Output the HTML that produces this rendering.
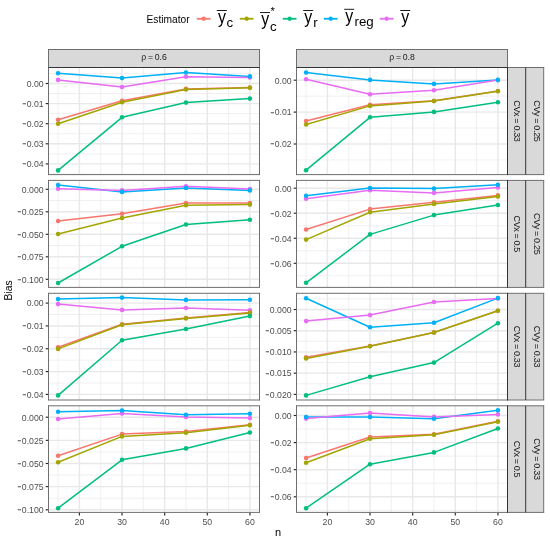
<!DOCTYPE html>
<html><head><meta charset="utf-8"><title>Bias plot</title>
<style>html,body{margin:0;padding:0;background:#fff;}body{width:550px;height:540px;position:relative;overflow:hidden;font-family:"Liberation Sans", sans-serif;}</style>
</head><body>
<svg width="550" height="540" viewBox="0 0 550 540" style="position:absolute;left:0;top:0;font-family:'Liberation Sans', sans-serif">
<rect x="0" y="0" width="550" height="540" fill="#FFFFFF"/>
<clipPath id="cp00"><rect x="48.5" y="67.5" width="211" height="107.1"/></clipPath>
<g clip-path="url(#cp00)">
<line x1="48.5" x2="259.5" y1="73.45" y2="73.45" stroke="#E8E8E8" stroke-width="0.65"/>
<line x1="48.5" x2="259.5" y1="93.55" y2="93.55" stroke="#E8E8E8" stroke-width="0.65"/>
<line x1="48.5" x2="259.5" y1="113.65" y2="113.65" stroke="#E8E8E8" stroke-width="0.65"/>
<line x1="48.5" x2="259.5" y1="133.75" y2="133.75" stroke="#E8E8E8" stroke-width="0.65"/>
<line x1="48.5" x2="259.5" y1="153.85" y2="153.85" stroke="#E8E8E8" stroke-width="0.65"/>
<line x1="48.5" x2="259.5" y1="173.95" y2="173.95" stroke="#E8E8E8" stroke-width="0.65"/>
<line x1="58.09" x2="58.09" y1="67.5" y2="174.6" stroke="#E8E8E8" stroke-width="0.65"/>
<line x1="100.72" x2="100.72" y1="67.5" y2="174.6" stroke="#E8E8E8" stroke-width="0.65"/>
<line x1="143.34" x2="143.34" y1="67.5" y2="174.6" stroke="#E8E8E8" stroke-width="0.65"/>
<line x1="185.97" x2="185.97" y1="67.5" y2="174.6" stroke="#E8E8E8" stroke-width="0.65"/>
<line x1="228.6" x2="228.6" y1="67.5" y2="174.6" stroke="#E8E8E8" stroke-width="0.65"/>
<line x1="48.5" x2="259.5" y1="83.5" y2="83.5" stroke="#E8E8E8" stroke-width="1.4"/>
<line x1="48.5" x2="259.5" y1="103.6" y2="103.6" stroke="#E8E8E8" stroke-width="1.4"/>
<line x1="48.5" x2="259.5" y1="123.7" y2="123.7" stroke="#E8E8E8" stroke-width="1.4"/>
<line x1="48.5" x2="259.5" y1="143.8" y2="143.8" stroke="#E8E8E8" stroke-width="1.4"/>
<line x1="48.5" x2="259.5" y1="163.9" y2="163.9" stroke="#E8E8E8" stroke-width="1.4"/>
<line x1="79.4" x2="79.4" y1="67.5" y2="174.6" stroke="#E8E8E8" stroke-width="1.4"/>
<line x1="122.03" x2="122.03" y1="67.5" y2="174.6" stroke="#E8E8E8" stroke-width="1.4"/>
<line x1="164.66" x2="164.66" y1="67.5" y2="174.6" stroke="#E8E8E8" stroke-width="1.4"/>
<line x1="207.28" x2="207.28" y1="67.5" y2="174.6" stroke="#E8E8E8" stroke-width="1.4"/>
<line x1="249.91" x2="249.91" y1="67.5" y2="174.6" stroke="#E8E8E8" stroke-width="1.4"/>
<polyline points="58.09,119.8 122.03,100.7 185.97,88.9 249.91,87.6" fill="none" stroke="#F8766D" stroke-width="1.5" stroke-linejoin="round"/>
<polyline points="58.09,123.7 122.03,102.3 185.97,89.5 249.91,87.8" fill="none" stroke="#A3A500" stroke-width="1.5" stroke-linejoin="round"/>
<polyline points="58.09,170.4 122.03,117.3 185.97,102.6 249.91,98.6" fill="none" stroke="#00BF7D" stroke-width="1.5" stroke-linejoin="round"/>
<polyline points="58.09,73.3 122.03,78.1 185.97,72.5 249.91,76.4" fill="none" stroke="#00B0F6" stroke-width="1.5" stroke-linejoin="round"/>
<polyline points="58.09,79.9 122.03,87 185.97,76.8 249.91,77.4" fill="none" stroke="#E76BF3" stroke-width="1.5" stroke-linejoin="round"/>
<circle cx="58.09" cy="79.9" r="2.3" fill="#E76BF3"/>
<circle cx="122.03" cy="87" r="2.3" fill="#E76BF3"/>
<circle cx="185.97" cy="76.8" r="2.3" fill="#E76BF3"/>
<circle cx="249.91" cy="77.4" r="2.3" fill="#E76BF3"/>
<circle cx="58.09" cy="119.8" r="2.3" fill="#F8766D"/>
<circle cx="122.03" cy="100.7" r="2.3" fill="#F8766D"/>
<circle cx="185.97" cy="88.9" r="2.3" fill="#F8766D"/>
<circle cx="249.91" cy="87.6" r="2.3" fill="#F8766D"/>
<circle cx="58.09" cy="123.7" r="2.3" fill="#A3A500"/>
<circle cx="122.03" cy="102.3" r="2.3" fill="#A3A500"/>
<circle cx="185.97" cy="89.5" r="2.3" fill="#A3A500"/>
<circle cx="249.91" cy="87.8" r="2.3" fill="#A3A500"/>
<circle cx="58.09" cy="170.4" r="2.3" fill="#00BF7D"/>
<circle cx="122.03" cy="117.3" r="2.3" fill="#00BF7D"/>
<circle cx="185.97" cy="102.6" r="2.3" fill="#00BF7D"/>
<circle cx="249.91" cy="98.6" r="2.3" fill="#00BF7D"/>
<circle cx="58.09" cy="73.3" r="2.3" fill="#00B0F6"/>
<circle cx="122.03" cy="78.1" r="2.3" fill="#00B0F6"/>
<circle cx="185.97" cy="72.5" r="2.3" fill="#00B0F6"/>
<circle cx="249.91" cy="76.4" r="2.3" fill="#00B0F6"/>
</g>
<line x1="45.7" x2="48.5" y1="83.5" y2="83.5" stroke="#262626" stroke-width="1.15"/>
<line x1="45.7" x2="48.5" y1="103.6" y2="103.6" stroke="#262626" stroke-width="1.15"/>
<line x1="45.7" x2="48.5" y1="123.7" y2="123.7" stroke="#262626" stroke-width="1.15"/>
<line x1="45.7" x2="48.5" y1="143.8" y2="143.8" stroke="#262626" stroke-width="1.15"/>
<line x1="45.7" x2="48.5" y1="163.9" y2="163.9" stroke="#262626" stroke-width="1.15"/>
<clipPath id="cp10"><rect x="48.5" y="180.4" width="211" height="107"/></clipPath>
<g clip-path="url(#cp10)">
<line x1="48.5" x2="259.5" y1="200.55" y2="200.55" stroke="#E8E8E8" stroke-width="0.65"/>
<line x1="48.5" x2="259.5" y1="223.05" y2="223.05" stroke="#E8E8E8" stroke-width="0.65"/>
<line x1="48.5" x2="259.5" y1="245.55" y2="245.55" stroke="#E8E8E8" stroke-width="0.65"/>
<line x1="48.5" x2="259.5" y1="268.05" y2="268.05" stroke="#E8E8E8" stroke-width="0.65"/>
<line x1="58.09" x2="58.09" y1="180.4" y2="287.4" stroke="#E8E8E8" stroke-width="0.65"/>
<line x1="100.72" x2="100.72" y1="180.4" y2="287.4" stroke="#E8E8E8" stroke-width="0.65"/>
<line x1="143.34" x2="143.34" y1="180.4" y2="287.4" stroke="#E8E8E8" stroke-width="0.65"/>
<line x1="185.97" x2="185.97" y1="180.4" y2="287.4" stroke="#E8E8E8" stroke-width="0.65"/>
<line x1="228.6" x2="228.6" y1="180.4" y2="287.4" stroke="#E8E8E8" stroke-width="0.65"/>
<line x1="48.5" x2="259.5" y1="189.3" y2="189.3" stroke="#E8E8E8" stroke-width="1.4"/>
<line x1="48.5" x2="259.5" y1="211.8" y2="211.8" stroke="#E8E8E8" stroke-width="1.4"/>
<line x1="48.5" x2="259.5" y1="234.3" y2="234.3" stroke="#E8E8E8" stroke-width="1.4"/>
<line x1="48.5" x2="259.5" y1="256.8" y2="256.8" stroke="#E8E8E8" stroke-width="1.4"/>
<line x1="48.5" x2="259.5" y1="279.3" y2="279.3" stroke="#E8E8E8" stroke-width="1.4"/>
<line x1="79.4" x2="79.4" y1="180.4" y2="287.4" stroke="#E8E8E8" stroke-width="1.4"/>
<line x1="122.03" x2="122.03" y1="180.4" y2="287.4" stroke="#E8E8E8" stroke-width="1.4"/>
<line x1="164.66" x2="164.66" y1="180.4" y2="287.4" stroke="#E8E8E8" stroke-width="1.4"/>
<line x1="207.28" x2="207.28" y1="180.4" y2="287.4" stroke="#E8E8E8" stroke-width="1.4"/>
<line x1="249.91" x2="249.91" y1="180.4" y2="287.4" stroke="#E8E8E8" stroke-width="1.4"/>
<polyline points="58.09,221 122.03,213.7 185.97,203.1 249.91,203.1" fill="none" stroke="#F8766D" stroke-width="1.5" stroke-linejoin="round"/>
<polyline points="58.09,234 122.03,218 185.97,205.2 249.91,204.6" fill="none" stroke="#A3A500" stroke-width="1.5" stroke-linejoin="round"/>
<polyline points="58.09,283 122.03,246.3 185.97,224.5 249.91,219.7" fill="none" stroke="#00BF7D" stroke-width="1.5" stroke-linejoin="round"/>
<polyline points="58.09,185.1 122.03,191.9 185.97,188 249.91,190.4" fill="none" stroke="#00B0F6" stroke-width="1.5" stroke-linejoin="round"/>
<polyline points="58.09,188.8 122.03,190.4 185.97,186.3 249.91,189" fill="none" stroke="#E76BF3" stroke-width="1.5" stroke-linejoin="round"/>
<circle cx="58.09" cy="188.8" r="2.3" fill="#E76BF3"/>
<circle cx="122.03" cy="190.4" r="2.3" fill="#E76BF3"/>
<circle cx="185.97" cy="186.3" r="2.3" fill="#E76BF3"/>
<circle cx="249.91" cy="189" r="2.3" fill="#E76BF3"/>
<circle cx="58.09" cy="221" r="2.3" fill="#F8766D"/>
<circle cx="122.03" cy="213.7" r="2.3" fill="#F8766D"/>
<circle cx="185.97" cy="203.1" r="2.3" fill="#F8766D"/>
<circle cx="249.91" cy="203.1" r="2.3" fill="#F8766D"/>
<circle cx="58.09" cy="234" r="2.3" fill="#A3A500"/>
<circle cx="122.03" cy="218" r="2.3" fill="#A3A500"/>
<circle cx="185.97" cy="205.2" r="2.3" fill="#A3A500"/>
<circle cx="249.91" cy="204.6" r="2.3" fill="#A3A500"/>
<circle cx="58.09" cy="283" r="2.3" fill="#00BF7D"/>
<circle cx="122.03" cy="246.3" r="2.3" fill="#00BF7D"/>
<circle cx="185.97" cy="224.5" r="2.3" fill="#00BF7D"/>
<circle cx="249.91" cy="219.7" r="2.3" fill="#00BF7D"/>
<circle cx="58.09" cy="185.1" r="2.3" fill="#00B0F6"/>
<circle cx="122.03" cy="191.9" r="2.3" fill="#00B0F6"/>
<circle cx="185.97" cy="188" r="2.3" fill="#00B0F6"/>
<circle cx="249.91" cy="190.4" r="2.3" fill="#00B0F6"/>
</g>
<line x1="45.7" x2="48.5" y1="189.3" y2="189.3" stroke="#262626" stroke-width="1.15"/>
<line x1="45.7" x2="48.5" y1="211.8" y2="211.8" stroke="#262626" stroke-width="1.15"/>
<line x1="45.7" x2="48.5" y1="234.3" y2="234.3" stroke="#262626" stroke-width="1.15"/>
<line x1="45.7" x2="48.5" y1="256.8" y2="256.8" stroke="#262626" stroke-width="1.15"/>
<line x1="45.7" x2="48.5" y1="279.3" y2="279.3" stroke="#262626" stroke-width="1.15"/>
<clipPath id="cp20"><rect x="48.5" y="293.3" width="211" height="106.7"/></clipPath>
<g clip-path="url(#cp20)">
<line x1="48.5" x2="259.5" y1="314.51" y2="314.51" stroke="#E8E8E8" stroke-width="0.65"/>
<line x1="48.5" x2="259.5" y1="337.35" y2="337.35" stroke="#E8E8E8" stroke-width="0.65"/>
<line x1="48.5" x2="259.5" y1="360.17" y2="360.17" stroke="#E8E8E8" stroke-width="0.65"/>
<line x1="48.5" x2="259.5" y1="383" y2="383" stroke="#E8E8E8" stroke-width="0.65"/>
<line x1="58.09" x2="58.09" y1="293.3" y2="400" stroke="#E8E8E8" stroke-width="0.65"/>
<line x1="100.72" x2="100.72" y1="293.3" y2="400" stroke="#E8E8E8" stroke-width="0.65"/>
<line x1="143.34" x2="143.34" y1="293.3" y2="400" stroke="#E8E8E8" stroke-width="0.65"/>
<line x1="185.97" x2="185.97" y1="293.3" y2="400" stroke="#E8E8E8" stroke-width="0.65"/>
<line x1="228.6" x2="228.6" y1="293.3" y2="400" stroke="#E8E8E8" stroke-width="0.65"/>
<line x1="48.5" x2="259.5" y1="303.1" y2="303.1" stroke="#E8E8E8" stroke-width="1.4"/>
<line x1="48.5" x2="259.5" y1="325.93" y2="325.93" stroke="#E8E8E8" stroke-width="1.4"/>
<line x1="48.5" x2="259.5" y1="348.76" y2="348.76" stroke="#E8E8E8" stroke-width="1.4"/>
<line x1="48.5" x2="259.5" y1="371.59" y2="371.59" stroke="#E8E8E8" stroke-width="1.4"/>
<line x1="48.5" x2="259.5" y1="394.42" y2="394.42" stroke="#E8E8E8" stroke-width="1.4"/>
<line x1="79.4" x2="79.4" y1="293.3" y2="400" stroke="#E8E8E8" stroke-width="1.4"/>
<line x1="122.03" x2="122.03" y1="293.3" y2="400" stroke="#E8E8E8" stroke-width="1.4"/>
<line x1="164.66" x2="164.66" y1="293.3" y2="400" stroke="#E8E8E8" stroke-width="1.4"/>
<line x1="207.28" x2="207.28" y1="293.3" y2="400" stroke="#E8E8E8" stroke-width="1.4"/>
<line x1="249.91" x2="249.91" y1="293.3" y2="400" stroke="#E8E8E8" stroke-width="1.4"/>
<polyline points="58.09,347.3 122.03,324.2 185.97,318 249.91,312.4" fill="none" stroke="#F8766D" stroke-width="1.5" stroke-linejoin="round"/>
<polyline points="58.09,348.9 122.03,324.8 185.97,318.4 249.91,313" fill="none" stroke="#A3A500" stroke-width="1.5" stroke-linejoin="round"/>
<polyline points="58.09,395.4 122.03,340.2 185.97,329 249.91,316.1" fill="none" stroke="#00BF7D" stroke-width="1.5" stroke-linejoin="round"/>
<polyline points="58.09,299.1 122.03,297.6 185.97,299.9 249.91,299.7" fill="none" stroke="#00B0F6" stroke-width="1.5" stroke-linejoin="round"/>
<polyline points="58.09,304.1 122.03,309.9 185.97,308 249.91,310.3" fill="none" stroke="#E76BF3" stroke-width="1.5" stroke-linejoin="round"/>
<circle cx="58.09" cy="304.1" r="2.3" fill="#E76BF3"/>
<circle cx="122.03" cy="309.9" r="2.3" fill="#E76BF3"/>
<circle cx="185.97" cy="308" r="2.3" fill="#E76BF3"/>
<circle cx="249.91" cy="310.3" r="2.3" fill="#E76BF3"/>
<circle cx="58.09" cy="347.3" r="2.3" fill="#F8766D"/>
<circle cx="122.03" cy="324.2" r="2.3" fill="#F8766D"/>
<circle cx="185.97" cy="318" r="2.3" fill="#F8766D"/>
<circle cx="249.91" cy="312.4" r="2.3" fill="#F8766D"/>
<circle cx="58.09" cy="348.9" r="2.3" fill="#A3A500"/>
<circle cx="122.03" cy="324.8" r="2.3" fill="#A3A500"/>
<circle cx="185.97" cy="318.4" r="2.3" fill="#A3A500"/>
<circle cx="249.91" cy="313" r="2.3" fill="#A3A500"/>
<circle cx="58.09" cy="395.4" r="2.3" fill="#00BF7D"/>
<circle cx="122.03" cy="340.2" r="2.3" fill="#00BF7D"/>
<circle cx="185.97" cy="329" r="2.3" fill="#00BF7D"/>
<circle cx="249.91" cy="316.1" r="2.3" fill="#00BF7D"/>
<circle cx="58.09" cy="299.1" r="2.3" fill="#00B0F6"/>
<circle cx="122.03" cy="297.6" r="2.3" fill="#00B0F6"/>
<circle cx="185.97" cy="299.9" r="2.3" fill="#00B0F6"/>
<circle cx="249.91" cy="299.7" r="2.3" fill="#00B0F6"/>
</g>
<line x1="45.7" x2="48.5" y1="303.1" y2="303.1" stroke="#262626" stroke-width="1.15"/>
<line x1="45.7" x2="48.5" y1="325.93" y2="325.93" stroke="#262626" stroke-width="1.15"/>
<line x1="45.7" x2="48.5" y1="348.76" y2="348.76" stroke="#262626" stroke-width="1.15"/>
<line x1="45.7" x2="48.5" y1="371.59" y2="371.59" stroke="#262626" stroke-width="1.15"/>
<line x1="45.7" x2="48.5" y1="394.42" y2="394.42" stroke="#262626" stroke-width="1.15"/>
<clipPath id="cp30"><rect x="48.5" y="405.8" width="211" height="106.6"/></clipPath>
<g clip-path="url(#cp30)">
<line x1="48.5" x2="259.5" y1="428.77" y2="428.77" stroke="#E8E8E8" stroke-width="0.65"/>
<line x1="48.5" x2="259.5" y1="451.92" y2="451.92" stroke="#E8E8E8" stroke-width="0.65"/>
<line x1="48.5" x2="259.5" y1="475.07" y2="475.07" stroke="#E8E8E8" stroke-width="0.65"/>
<line x1="48.5" x2="259.5" y1="498.22" y2="498.22" stroke="#E8E8E8" stroke-width="0.65"/>
<line x1="58.09" x2="58.09" y1="405.8" y2="512.4" stroke="#E8E8E8" stroke-width="0.65"/>
<line x1="100.72" x2="100.72" y1="405.8" y2="512.4" stroke="#E8E8E8" stroke-width="0.65"/>
<line x1="143.34" x2="143.34" y1="405.8" y2="512.4" stroke="#E8E8E8" stroke-width="0.65"/>
<line x1="185.97" x2="185.97" y1="405.8" y2="512.4" stroke="#E8E8E8" stroke-width="0.65"/>
<line x1="228.6" x2="228.6" y1="405.8" y2="512.4" stroke="#E8E8E8" stroke-width="0.65"/>
<line x1="48.5" x2="259.5" y1="417.2" y2="417.2" stroke="#E8E8E8" stroke-width="1.4"/>
<line x1="48.5" x2="259.5" y1="440.35" y2="440.35" stroke="#E8E8E8" stroke-width="1.4"/>
<line x1="48.5" x2="259.5" y1="463.5" y2="463.5" stroke="#E8E8E8" stroke-width="1.4"/>
<line x1="48.5" x2="259.5" y1="486.65" y2="486.65" stroke="#E8E8E8" stroke-width="1.4"/>
<line x1="48.5" x2="259.5" y1="509.8" y2="509.8" stroke="#E8E8E8" stroke-width="1.4"/>
<line x1="79.4" x2="79.4" y1="405.8" y2="512.4" stroke="#E8E8E8" stroke-width="1.4"/>
<line x1="122.03" x2="122.03" y1="405.8" y2="512.4" stroke="#E8E8E8" stroke-width="1.4"/>
<line x1="164.66" x2="164.66" y1="405.8" y2="512.4" stroke="#E8E8E8" stroke-width="1.4"/>
<line x1="207.28" x2="207.28" y1="405.8" y2="512.4" stroke="#E8E8E8" stroke-width="1.4"/>
<line x1="249.91" x2="249.91" y1="405.8" y2="512.4" stroke="#E8E8E8" stroke-width="1.4"/>
<polyline points="58.09,455.7 122.03,434.1 185.97,431.6 249.91,424.8" fill="none" stroke="#F8766D" stroke-width="1.5" stroke-linejoin="round"/>
<polyline points="58.09,462.3 122.03,436.4 185.97,432.7 249.91,425.2" fill="none" stroke="#A3A500" stroke-width="1.5" stroke-linejoin="round"/>
<polyline points="58.09,508.2 122.03,459.8 185.97,448.4 249.91,432.5" fill="none" stroke="#00BF7D" stroke-width="1.5" stroke-linejoin="round"/>
<polyline points="58.09,411.7 122.03,410.5 185.97,414.8 249.91,413.8" fill="none" stroke="#00B0F6" stroke-width="1.5" stroke-linejoin="round"/>
<polyline points="58.09,419 122.03,413.4 185.97,417.1 249.91,418.1" fill="none" stroke="#E76BF3" stroke-width="1.5" stroke-linejoin="round"/>
<circle cx="58.09" cy="419" r="2.3" fill="#E76BF3"/>
<circle cx="122.03" cy="413.4" r="2.3" fill="#E76BF3"/>
<circle cx="185.97" cy="417.1" r="2.3" fill="#E76BF3"/>
<circle cx="249.91" cy="418.1" r="2.3" fill="#E76BF3"/>
<circle cx="58.09" cy="455.7" r="2.3" fill="#F8766D"/>
<circle cx="122.03" cy="434.1" r="2.3" fill="#F8766D"/>
<circle cx="185.97" cy="431.6" r="2.3" fill="#F8766D"/>
<circle cx="249.91" cy="424.8" r="2.3" fill="#F8766D"/>
<circle cx="58.09" cy="462.3" r="2.3" fill="#A3A500"/>
<circle cx="122.03" cy="436.4" r="2.3" fill="#A3A500"/>
<circle cx="185.97" cy="432.7" r="2.3" fill="#A3A500"/>
<circle cx="249.91" cy="425.2" r="2.3" fill="#A3A500"/>
<circle cx="58.09" cy="508.2" r="2.3" fill="#00BF7D"/>
<circle cx="122.03" cy="459.8" r="2.3" fill="#00BF7D"/>
<circle cx="185.97" cy="448.4" r="2.3" fill="#00BF7D"/>
<circle cx="249.91" cy="432.5" r="2.3" fill="#00BF7D"/>
<circle cx="58.09" cy="411.7" r="2.3" fill="#00B0F6"/>
<circle cx="122.03" cy="410.5" r="2.3" fill="#00B0F6"/>
<circle cx="185.97" cy="414.8" r="2.3" fill="#00B0F6"/>
<circle cx="249.91" cy="413.8" r="2.3" fill="#00B0F6"/>
</g>
<line x1="45.7" x2="48.5" y1="417.2" y2="417.2" stroke="#262626" stroke-width="1.15"/>
<line x1="45.7" x2="48.5" y1="440.35" y2="440.35" stroke="#262626" stroke-width="1.15"/>
<line x1="45.7" x2="48.5" y1="463.5" y2="463.5" stroke="#262626" stroke-width="1.15"/>
<line x1="45.7" x2="48.5" y1="486.65" y2="486.65" stroke="#262626" stroke-width="1.15"/>
<line x1="45.7" x2="48.5" y1="509.8" y2="509.8" stroke="#262626" stroke-width="1.15"/>
<clipPath id="cp01"><rect x="296.5" y="67.5" width="211" height="107.1"/></clipPath>
<g clip-path="url(#cp01)">
<line x1="296.5" x2="507.5" y1="96.15" y2="96.15" stroke="#E8E8E8" stroke-width="0.65"/>
<line x1="296.5" x2="507.5" y1="128.05" y2="128.05" stroke="#E8E8E8" stroke-width="0.65"/>
<line x1="296.5" x2="507.5" y1="159.95" y2="159.95" stroke="#E8E8E8" stroke-width="0.65"/>
<line x1="306.09" x2="306.09" y1="67.5" y2="174.6" stroke="#E8E8E8" stroke-width="0.65"/>
<line x1="348.72" x2="348.72" y1="67.5" y2="174.6" stroke="#E8E8E8" stroke-width="0.65"/>
<line x1="391.34" x2="391.34" y1="67.5" y2="174.6" stroke="#E8E8E8" stroke-width="0.65"/>
<line x1="433.97" x2="433.97" y1="67.5" y2="174.6" stroke="#E8E8E8" stroke-width="0.65"/>
<line x1="476.6" x2="476.6" y1="67.5" y2="174.6" stroke="#E8E8E8" stroke-width="0.65"/>
<line x1="296.5" x2="507.5" y1="80.2" y2="80.2" stroke="#E8E8E8" stroke-width="1.4"/>
<line x1="296.5" x2="507.5" y1="112.1" y2="112.1" stroke="#E8E8E8" stroke-width="1.4"/>
<line x1="296.5" x2="507.5" y1="144" y2="144" stroke="#E8E8E8" stroke-width="1.4"/>
<line x1="327.4" x2="327.4" y1="67.5" y2="174.6" stroke="#E8E8E8" stroke-width="1.4"/>
<line x1="370.03" x2="370.03" y1="67.5" y2="174.6" stroke="#E8E8E8" stroke-width="1.4"/>
<line x1="412.66" x2="412.66" y1="67.5" y2="174.6" stroke="#E8E8E8" stroke-width="1.4"/>
<line x1="455.28" x2="455.28" y1="67.5" y2="174.6" stroke="#E8E8E8" stroke-width="1.4"/>
<line x1="497.91" x2="497.91" y1="67.5" y2="174.6" stroke="#E8E8E8" stroke-width="1.4"/>
<polyline points="306.09,121 370.03,104.8 433.97,100.7 497.91,91" fill="none" stroke="#F8766D" stroke-width="1.5" stroke-linejoin="round"/>
<polyline points="306.09,124.5 370.03,105.9 433.97,101.1 497.91,91.2" fill="none" stroke="#A3A500" stroke-width="1.5" stroke-linejoin="round"/>
<polyline points="306.09,170.2 370.03,117.3 433.97,111.9 497.91,102.3" fill="none" stroke="#00BF7D" stroke-width="1.5" stroke-linejoin="round"/>
<polyline points="306.09,72.5 370.03,79.9 433.97,83.9 497.91,79.9" fill="none" stroke="#00B0F6" stroke-width="1.5" stroke-linejoin="round"/>
<polyline points="306.09,79.3 370.03,94.3 433.97,90.3 497.91,80.1" fill="none" stroke="#E76BF3" stroke-width="1.5" stroke-linejoin="round"/>
<circle cx="306.09" cy="79.3" r="2.3" fill="#E76BF3"/>
<circle cx="370.03" cy="94.3" r="2.3" fill="#E76BF3"/>
<circle cx="433.97" cy="90.3" r="2.3" fill="#E76BF3"/>
<circle cx="497.91" cy="80.1" r="2.3" fill="#E76BF3"/>
<circle cx="306.09" cy="121" r="2.3" fill="#F8766D"/>
<circle cx="370.03" cy="104.8" r="2.3" fill="#F8766D"/>
<circle cx="433.97" cy="100.7" r="2.3" fill="#F8766D"/>
<circle cx="497.91" cy="91" r="2.3" fill="#F8766D"/>
<circle cx="306.09" cy="124.5" r="2.3" fill="#A3A500"/>
<circle cx="370.03" cy="105.9" r="2.3" fill="#A3A500"/>
<circle cx="433.97" cy="101.1" r="2.3" fill="#A3A500"/>
<circle cx="497.91" cy="91.2" r="2.3" fill="#A3A500"/>
<circle cx="306.09" cy="170.2" r="2.3" fill="#00BF7D"/>
<circle cx="370.03" cy="117.3" r="2.3" fill="#00BF7D"/>
<circle cx="433.97" cy="111.9" r="2.3" fill="#00BF7D"/>
<circle cx="497.91" cy="102.3" r="2.3" fill="#00BF7D"/>
<circle cx="306.09" cy="72.5" r="2.3" fill="#00B0F6"/>
<circle cx="370.03" cy="79.9" r="2.3" fill="#00B0F6"/>
<circle cx="433.97" cy="83.9" r="2.3" fill="#00B0F6"/>
<circle cx="497.91" cy="79.9" r="2.3" fill="#00B0F6"/>
</g>
<line x1="293.7" x2="296.5" y1="80.2" y2="80.2" stroke="#262626" stroke-width="1.15"/>
<line x1="293.7" x2="296.5" y1="112.1" y2="112.1" stroke="#262626" stroke-width="1.15"/>
<line x1="293.7" x2="296.5" y1="144" y2="144" stroke="#262626" stroke-width="1.15"/>
<clipPath id="cp11"><rect x="296.5" y="180.4" width="211" height="107"/></clipPath>
<g clip-path="url(#cp11)">
<line x1="296.5" x2="507.5" y1="200.71" y2="200.71" stroke="#E8E8E8" stroke-width="0.65"/>
<line x1="296.5" x2="507.5" y1="225.75" y2="225.75" stroke="#E8E8E8" stroke-width="0.65"/>
<line x1="296.5" x2="507.5" y1="250.77" y2="250.77" stroke="#E8E8E8" stroke-width="0.65"/>
<line x1="296.5" x2="507.5" y1="275.8" y2="275.8" stroke="#E8E8E8" stroke-width="0.65"/>
<line x1="306.09" x2="306.09" y1="180.4" y2="287.4" stroke="#E8E8E8" stroke-width="0.65"/>
<line x1="348.72" x2="348.72" y1="180.4" y2="287.4" stroke="#E8E8E8" stroke-width="0.65"/>
<line x1="391.34" x2="391.34" y1="180.4" y2="287.4" stroke="#E8E8E8" stroke-width="0.65"/>
<line x1="433.97" x2="433.97" y1="180.4" y2="287.4" stroke="#E8E8E8" stroke-width="0.65"/>
<line x1="476.6" x2="476.6" y1="180.4" y2="287.4" stroke="#E8E8E8" stroke-width="0.65"/>
<line x1="296.5" x2="507.5" y1="188.2" y2="188.2" stroke="#E8E8E8" stroke-width="1.4"/>
<line x1="296.5" x2="507.5" y1="213.23" y2="213.23" stroke="#E8E8E8" stroke-width="1.4"/>
<line x1="296.5" x2="507.5" y1="238.26" y2="238.26" stroke="#E8E8E8" stroke-width="1.4"/>
<line x1="296.5" x2="507.5" y1="263.29" y2="263.29" stroke="#E8E8E8" stroke-width="1.4"/>
<line x1="327.4" x2="327.4" y1="180.4" y2="287.4" stroke="#E8E8E8" stroke-width="1.4"/>
<line x1="370.03" x2="370.03" y1="180.4" y2="287.4" stroke="#E8E8E8" stroke-width="1.4"/>
<line x1="412.66" x2="412.66" y1="180.4" y2="287.4" stroke="#E8E8E8" stroke-width="1.4"/>
<line x1="455.28" x2="455.28" y1="180.4" y2="287.4" stroke="#E8E8E8" stroke-width="1.4"/>
<line x1="497.91" x2="497.91" y1="180.4" y2="287.4" stroke="#E8E8E8" stroke-width="1.4"/>
<polyline points="306.09,229.5 370.03,209.1 433.97,202.3 497.91,195.4" fill="none" stroke="#F8766D" stroke-width="1.5" stroke-linejoin="round"/>
<polyline points="306.09,239.6 370.03,212.2 433.97,203.9 497.91,196.5" fill="none" stroke="#A3A500" stroke-width="1.5" stroke-linejoin="round"/>
<polyline points="306.09,282.8 370.03,234.4 433.97,215.1 497.91,205" fill="none" stroke="#00BF7D" stroke-width="1.5" stroke-linejoin="round"/>
<polyline points="306.09,195.8 370.03,188 433.97,188.6 497.91,184.8" fill="none" stroke="#00B0F6" stroke-width="1.5" stroke-linejoin="round"/>
<polyline points="306.09,198.7 370.03,190.2 433.97,192.9 497.91,187.5" fill="none" stroke="#E76BF3" stroke-width="1.5" stroke-linejoin="round"/>
<circle cx="306.09" cy="198.7" r="2.3" fill="#E76BF3"/>
<circle cx="370.03" cy="190.2" r="2.3" fill="#E76BF3"/>
<circle cx="433.97" cy="192.9" r="2.3" fill="#E76BF3"/>
<circle cx="497.91" cy="187.5" r="2.3" fill="#E76BF3"/>
<circle cx="306.09" cy="229.5" r="2.3" fill="#F8766D"/>
<circle cx="370.03" cy="209.1" r="2.3" fill="#F8766D"/>
<circle cx="433.97" cy="202.3" r="2.3" fill="#F8766D"/>
<circle cx="497.91" cy="195.4" r="2.3" fill="#F8766D"/>
<circle cx="306.09" cy="239.6" r="2.3" fill="#A3A500"/>
<circle cx="370.03" cy="212.2" r="2.3" fill="#A3A500"/>
<circle cx="433.97" cy="203.9" r="2.3" fill="#A3A500"/>
<circle cx="497.91" cy="196.5" r="2.3" fill="#A3A500"/>
<circle cx="306.09" cy="282.8" r="2.3" fill="#00BF7D"/>
<circle cx="370.03" cy="234.4" r="2.3" fill="#00BF7D"/>
<circle cx="433.97" cy="215.1" r="2.3" fill="#00BF7D"/>
<circle cx="497.91" cy="205" r="2.3" fill="#00BF7D"/>
<circle cx="306.09" cy="195.8" r="2.3" fill="#00B0F6"/>
<circle cx="370.03" cy="188" r="2.3" fill="#00B0F6"/>
<circle cx="433.97" cy="188.6" r="2.3" fill="#00B0F6"/>
<circle cx="497.91" cy="184.8" r="2.3" fill="#00B0F6"/>
</g>
<line x1="293.7" x2="296.5" y1="188.2" y2="188.2" stroke="#262626" stroke-width="1.15"/>
<line x1="293.7" x2="296.5" y1="213.23" y2="213.23" stroke="#262626" stroke-width="1.15"/>
<line x1="293.7" x2="296.5" y1="238.26" y2="238.26" stroke="#262626" stroke-width="1.15"/>
<line x1="293.7" x2="296.5" y1="263.29" y2="263.29" stroke="#262626" stroke-width="1.15"/>
<clipPath id="cp21"><rect x="296.5" y="293.3" width="211" height="106.7"/></clipPath>
<g clip-path="url(#cp21)">
<line x1="296.5" x2="507.5" y1="298.89" y2="298.89" stroke="#E8E8E8" stroke-width="0.65"/>
<line x1="296.5" x2="507.5" y1="320.11" y2="320.11" stroke="#E8E8E8" stroke-width="0.65"/>
<line x1="296.5" x2="507.5" y1="341.33" y2="341.33" stroke="#E8E8E8" stroke-width="0.65"/>
<line x1="296.5" x2="507.5" y1="362.55" y2="362.55" stroke="#E8E8E8" stroke-width="0.65"/>
<line x1="296.5" x2="507.5" y1="383.77" y2="383.77" stroke="#E8E8E8" stroke-width="0.65"/>
<line x1="306.09" x2="306.09" y1="293.3" y2="400" stroke="#E8E8E8" stroke-width="0.65"/>
<line x1="348.72" x2="348.72" y1="293.3" y2="400" stroke="#E8E8E8" stroke-width="0.65"/>
<line x1="391.34" x2="391.34" y1="293.3" y2="400" stroke="#E8E8E8" stroke-width="0.65"/>
<line x1="433.97" x2="433.97" y1="293.3" y2="400" stroke="#E8E8E8" stroke-width="0.65"/>
<line x1="476.6" x2="476.6" y1="293.3" y2="400" stroke="#E8E8E8" stroke-width="0.65"/>
<line x1="296.5" x2="507.5" y1="309.5" y2="309.5" stroke="#E8E8E8" stroke-width="1.4"/>
<line x1="296.5" x2="507.5" y1="330.72" y2="330.72" stroke="#E8E8E8" stroke-width="1.4"/>
<line x1="296.5" x2="507.5" y1="351.94" y2="351.94" stroke="#E8E8E8" stroke-width="1.4"/>
<line x1="296.5" x2="507.5" y1="373.16" y2="373.16" stroke="#E8E8E8" stroke-width="1.4"/>
<line x1="296.5" x2="507.5" y1="394.38" y2="394.38" stroke="#E8E8E8" stroke-width="1.4"/>
<line x1="327.4" x2="327.4" y1="293.3" y2="400" stroke="#E8E8E8" stroke-width="1.4"/>
<line x1="370.03" x2="370.03" y1="293.3" y2="400" stroke="#E8E8E8" stroke-width="1.4"/>
<line x1="412.66" x2="412.66" y1="293.3" y2="400" stroke="#E8E8E8" stroke-width="1.4"/>
<line x1="455.28" x2="455.28" y1="293.3" y2="400" stroke="#E8E8E8" stroke-width="1.4"/>
<line x1="497.91" x2="497.91" y1="293.3" y2="400" stroke="#E8E8E8" stroke-width="1.4"/>
<polyline points="306.09,357.3 370.03,346.1 433.97,332.4 497.91,310.8" fill="none" stroke="#F8766D" stroke-width="1.5" stroke-linejoin="round"/>
<polyline points="306.09,358.4 370.03,346.2 433.97,332.5 497.91,310.8" fill="none" stroke="#A3A500" stroke-width="1.5" stroke-linejoin="round"/>
<polyline points="306.09,395.4 370.03,376.7 433.97,362.6 497.91,323.2" fill="none" stroke="#00BF7D" stroke-width="1.5" stroke-linejoin="round"/>
<polyline points="306.09,298.3 370.03,327.3 433.97,322.7 497.91,298.1" fill="none" stroke="#00B0F6" stroke-width="1.5" stroke-linejoin="round"/>
<polyline points="306.09,321.1 370.03,315.1 433.97,302 497.91,298.5" fill="none" stroke="#E76BF3" stroke-width="1.5" stroke-linejoin="round"/>
<circle cx="306.09" cy="321.1" r="2.3" fill="#E76BF3"/>
<circle cx="370.03" cy="315.1" r="2.3" fill="#E76BF3"/>
<circle cx="433.97" cy="302" r="2.3" fill="#E76BF3"/>
<circle cx="497.91" cy="298.5" r="2.3" fill="#E76BF3"/>
<circle cx="306.09" cy="357.3" r="2.3" fill="#F8766D"/>
<circle cx="370.03" cy="346.1" r="2.3" fill="#F8766D"/>
<circle cx="433.97" cy="332.4" r="2.3" fill="#F8766D"/>
<circle cx="497.91" cy="310.8" r="2.3" fill="#F8766D"/>
<circle cx="306.09" cy="358.4" r="2.3" fill="#A3A500"/>
<circle cx="370.03" cy="346.2" r="2.3" fill="#A3A500"/>
<circle cx="433.97" cy="332.5" r="2.3" fill="#A3A500"/>
<circle cx="497.91" cy="310.8" r="2.3" fill="#A3A500"/>
<circle cx="306.09" cy="395.4" r="2.3" fill="#00BF7D"/>
<circle cx="370.03" cy="376.7" r="2.3" fill="#00BF7D"/>
<circle cx="433.97" cy="362.6" r="2.3" fill="#00BF7D"/>
<circle cx="497.91" cy="323.2" r="2.3" fill="#00BF7D"/>
<circle cx="306.09" cy="298.3" r="2.3" fill="#00B0F6"/>
<circle cx="370.03" cy="327.3" r="2.3" fill="#00B0F6"/>
<circle cx="433.97" cy="322.7" r="2.3" fill="#00B0F6"/>
<circle cx="497.91" cy="298.1" r="2.3" fill="#00B0F6"/>
</g>
<line x1="293.7" x2="296.5" y1="309.5" y2="309.5" stroke="#262626" stroke-width="1.15"/>
<line x1="293.7" x2="296.5" y1="330.72" y2="330.72" stroke="#262626" stroke-width="1.15"/>
<line x1="293.7" x2="296.5" y1="351.94" y2="351.94" stroke="#262626" stroke-width="1.15"/>
<line x1="293.7" x2="296.5" y1="373.16" y2="373.16" stroke="#262626" stroke-width="1.15"/>
<line x1="293.7" x2="296.5" y1="394.38" y2="394.38" stroke="#262626" stroke-width="1.15"/>
<clipPath id="cp31"><rect x="296.5" y="405.8" width="211" height="106.6"/></clipPath>
<g clip-path="url(#cp31)">
<line x1="296.5" x2="507.5" y1="429.05" y2="429.05" stroke="#E8E8E8" stroke-width="0.65"/>
<line x1="296.5" x2="507.5" y1="456.15" y2="456.15" stroke="#E8E8E8" stroke-width="0.65"/>
<line x1="296.5" x2="507.5" y1="483.25" y2="483.25" stroke="#E8E8E8" stroke-width="0.65"/>
<line x1="296.5" x2="507.5" y1="510.35" y2="510.35" stroke="#E8E8E8" stroke-width="0.65"/>
<line x1="306.09" x2="306.09" y1="405.8" y2="512.4" stroke="#E8E8E8" stroke-width="0.65"/>
<line x1="348.72" x2="348.72" y1="405.8" y2="512.4" stroke="#E8E8E8" stroke-width="0.65"/>
<line x1="391.34" x2="391.34" y1="405.8" y2="512.4" stroke="#E8E8E8" stroke-width="0.65"/>
<line x1="433.97" x2="433.97" y1="405.8" y2="512.4" stroke="#E8E8E8" stroke-width="0.65"/>
<line x1="476.6" x2="476.6" y1="405.8" y2="512.4" stroke="#E8E8E8" stroke-width="0.65"/>
<line x1="296.5" x2="507.5" y1="415.5" y2="415.5" stroke="#E8E8E8" stroke-width="1.4"/>
<line x1="296.5" x2="507.5" y1="442.6" y2="442.6" stroke="#E8E8E8" stroke-width="1.4"/>
<line x1="296.5" x2="507.5" y1="469.7" y2="469.7" stroke="#E8E8E8" stroke-width="1.4"/>
<line x1="296.5" x2="507.5" y1="496.8" y2="496.8" stroke="#E8E8E8" stroke-width="1.4"/>
<line x1="327.4" x2="327.4" y1="405.8" y2="512.4" stroke="#E8E8E8" stroke-width="1.4"/>
<line x1="370.03" x2="370.03" y1="405.8" y2="512.4" stroke="#E8E8E8" stroke-width="1.4"/>
<line x1="412.66" x2="412.66" y1="405.8" y2="512.4" stroke="#E8E8E8" stroke-width="1.4"/>
<line x1="455.28" x2="455.28" y1="405.8" y2="512.4" stroke="#E8E8E8" stroke-width="1.4"/>
<line x1="497.91" x2="497.91" y1="405.8" y2="512.4" stroke="#E8E8E8" stroke-width="1.4"/>
<polyline points="306.09,458 370.03,437 433.97,434.3 497.91,421.3" fill="none" stroke="#F8766D" stroke-width="1.5" stroke-linejoin="round"/>
<polyline points="306.09,462.8 370.03,438.7 433.97,434.7 497.91,421.7" fill="none" stroke="#A3A500" stroke-width="1.5" stroke-linejoin="round"/>
<polyline points="306.09,508.2 370.03,464.2 433.97,452.4 497.91,428.5" fill="none" stroke="#00BF7D" stroke-width="1.5" stroke-linejoin="round"/>
<polyline points="306.09,417.1 370.03,417.1 433.97,418.8 497.91,410.3" fill="none" stroke="#00B0F6" stroke-width="1.5" stroke-linejoin="round"/>
<polyline points="306.09,418.6 370.03,413 433.97,416.9 497.91,414.4" fill="none" stroke="#E76BF3" stroke-width="1.5" stroke-linejoin="round"/>
<circle cx="306.09" cy="418.6" r="2.3" fill="#E76BF3"/>
<circle cx="370.03" cy="413" r="2.3" fill="#E76BF3"/>
<circle cx="433.97" cy="416.9" r="2.3" fill="#E76BF3"/>
<circle cx="497.91" cy="414.4" r="2.3" fill="#E76BF3"/>
<circle cx="306.09" cy="458" r="2.3" fill="#F8766D"/>
<circle cx="370.03" cy="437" r="2.3" fill="#F8766D"/>
<circle cx="433.97" cy="434.3" r="2.3" fill="#F8766D"/>
<circle cx="497.91" cy="421.3" r="2.3" fill="#F8766D"/>
<circle cx="306.09" cy="462.8" r="2.3" fill="#A3A500"/>
<circle cx="370.03" cy="438.7" r="2.3" fill="#A3A500"/>
<circle cx="433.97" cy="434.7" r="2.3" fill="#A3A500"/>
<circle cx="497.91" cy="421.7" r="2.3" fill="#A3A500"/>
<circle cx="306.09" cy="508.2" r="2.3" fill="#00BF7D"/>
<circle cx="370.03" cy="464.2" r="2.3" fill="#00BF7D"/>
<circle cx="433.97" cy="452.4" r="2.3" fill="#00BF7D"/>
<circle cx="497.91" cy="428.5" r="2.3" fill="#00BF7D"/>
<circle cx="306.09" cy="417.1" r="2.3" fill="#00B0F6"/>
<circle cx="370.03" cy="417.1" r="2.3" fill="#00B0F6"/>
<circle cx="433.97" cy="418.8" r="2.3" fill="#00B0F6"/>
<circle cx="497.91" cy="410.3" r="2.3" fill="#00B0F6"/>
</g>
<line x1="293.7" x2="296.5" y1="415.5" y2="415.5" stroke="#262626" stroke-width="1.15"/>
<line x1="293.7" x2="296.5" y1="442.6" y2="442.6" stroke="#262626" stroke-width="1.15"/>
<line x1="293.7" x2="296.5" y1="469.7" y2="469.7" stroke="#262626" stroke-width="1.15"/>
<line x1="293.7" x2="296.5" y1="496.8" y2="496.8" stroke="#262626" stroke-width="1.15"/>
<line x1="79.4" x2="79.4" y1="512.4" y2="515.4" stroke="#262626" stroke-width="1.15"/>
<line x1="122.03" x2="122.03" y1="512.4" y2="515.4" stroke="#262626" stroke-width="1.15"/>
<line x1="164.66" x2="164.66" y1="512.4" y2="515.4" stroke="#262626" stroke-width="1.15"/>
<line x1="207.28" x2="207.28" y1="512.4" y2="515.4" stroke="#262626" stroke-width="1.15"/>
<line x1="249.91" x2="249.91" y1="512.4" y2="515.4" stroke="#262626" stroke-width="1.15"/>
<line x1="327.4" x2="327.4" y1="512.4" y2="515.4" stroke="#262626" stroke-width="1.15"/>
<line x1="370.03" x2="370.03" y1="512.4" y2="515.4" stroke="#262626" stroke-width="1.15"/>
<line x1="412.66" x2="412.66" y1="512.4" y2="515.4" stroke="#262626" stroke-width="1.15"/>
<line x1="455.28" x2="455.28" y1="512.4" y2="515.4" stroke="#262626" stroke-width="1.15"/>
<line x1="497.91" x2="497.91" y1="512.4" y2="515.4" stroke="#262626" stroke-width="1.15"/>
<rect x="48.5" y="49.5" width="211" height="18" fill="#D9D9D9"/>
<rect x="296.5" y="49.5" width="211" height="18" fill="#D9D9D9"/>
<rect x="507.5" y="67.5" width="18.2" height="107.1" fill="#D9D9D9"/>
<rect x="525.7" y="67.5" width="18" height="107.1" fill="#D9D9D9"/>
<rect x="507.5" y="180.4" width="18.2" height="107" fill="#D9D9D9"/>
<rect x="525.7" y="180.4" width="18" height="107" fill="#D9D9D9"/>
<rect x="507.5" y="293.3" width="18.2" height="106.7" fill="#D9D9D9"/>
<rect x="525.7" y="293.3" width="18" height="106.7" fill="#D9D9D9"/>
<rect x="507.5" y="405.8" width="18.2" height="106.6" fill="#D9D9D9"/>
<rect x="525.7" y="405.8" width="18" height="106.6" fill="#D9D9D9"/>
<line x1="48.5" x2="48.5" y1="67" y2="175.1" stroke="#6e6e6e" stroke-width="1.0"/>
<line x1="48.5" x2="259.5" y1="174.6" y2="174.6" stroke="#6e6e6e" stroke-width="1.0"/>
<line x1="259.5" x2="259.5" y1="67" y2="175.1" stroke="#6e6e6e" stroke-width="1.0"/>
<line x1="296.5" x2="296.5" y1="67" y2="175.1" stroke="#6e6e6e" stroke-width="1.0"/>
<line x1="296.5" x2="507.5" y1="174.6" y2="174.6" stroke="#6e6e6e" stroke-width="1.0"/>
<line x1="48.5" x2="48.5" y1="179.9" y2="287.9" stroke="#6e6e6e" stroke-width="1.0"/>
<line x1="48.5" x2="259.5" y1="287.4" y2="287.4" stroke="#6e6e6e" stroke-width="1.0"/>
<line x1="48.5" x2="259.5" y1="180.4" y2="180.4" stroke="#6e6e6e" stroke-width="1.0"/>
<line x1="259.5" x2="259.5" y1="179.9" y2="287.9" stroke="#6e6e6e" stroke-width="1.0"/>
<line x1="296.5" x2="296.5" y1="179.9" y2="287.9" stroke="#6e6e6e" stroke-width="1.0"/>
<line x1="296.5" x2="507.5" y1="287.4" y2="287.4" stroke="#6e6e6e" stroke-width="1.0"/>
<line x1="296.5" x2="507.5" y1="180.4" y2="180.4" stroke="#6e6e6e" stroke-width="1.0"/>
<line x1="48.5" x2="48.5" y1="292.8" y2="400.5" stroke="#6e6e6e" stroke-width="1.0"/>
<line x1="48.5" x2="259.5" y1="400" y2="400" stroke="#6e6e6e" stroke-width="1.0"/>
<line x1="48.5" x2="259.5" y1="293.3" y2="293.3" stroke="#6e6e6e" stroke-width="1.0"/>
<line x1="259.5" x2="259.5" y1="292.8" y2="400.5" stroke="#6e6e6e" stroke-width="1.0"/>
<line x1="296.5" x2="296.5" y1="292.8" y2="400.5" stroke="#6e6e6e" stroke-width="1.0"/>
<line x1="296.5" x2="507.5" y1="400" y2="400" stroke="#6e6e6e" stroke-width="1.0"/>
<line x1="296.5" x2="507.5" y1="293.3" y2="293.3" stroke="#6e6e6e" stroke-width="1.0"/>
<line x1="48.5" x2="48.5" y1="405.3" y2="512.9" stroke="#6e6e6e" stroke-width="1.0"/>
<line x1="48.5" x2="259.5" y1="512.4" y2="512.4" stroke="#6e6e6e" stroke-width="1.0"/>
<line x1="48.5" x2="259.5" y1="405.8" y2="405.8" stroke="#6e6e6e" stroke-width="1.0"/>
<line x1="259.5" x2="259.5" y1="405.3" y2="512.9" stroke="#6e6e6e" stroke-width="1.0"/>
<line x1="296.5" x2="296.5" y1="405.3" y2="512.9" stroke="#6e6e6e" stroke-width="1.0"/>
<line x1="296.5" x2="507.5" y1="512.4" y2="512.4" stroke="#6e6e6e" stroke-width="1.0"/>
<line x1="296.5" x2="507.5" y1="405.8" y2="405.8" stroke="#6e6e6e" stroke-width="1.0"/>
<line x1="48" x2="260" y1="49.5" y2="49.5" stroke="#6e6e6e" stroke-width="1.0"/>
<line x1="48.5" x2="48.5" y1="49.5" y2="67.5" stroke="#6e6e6e" stroke-width="1.0"/>
<line x1="259.5" x2="259.5" y1="49.5" y2="67.5" stroke="#6e6e6e" stroke-width="1.0"/>
<line x1="48.5" x2="259.5" y1="67.5" y2="67.5" stroke="#333333" stroke-width="1.0"/>
<line x1="296" x2="508" y1="49.5" y2="49.5" stroke="#6e6e6e" stroke-width="1.0"/>
<line x1="296.5" x2="296.5" y1="49.5" y2="67.5" stroke="#6e6e6e" stroke-width="1.0"/>
<line x1="507.5" x2="507.5" y1="49.5" y2="67.5" stroke="#6e6e6e" stroke-width="1.0"/>
<line x1="296.5" x2="507.5" y1="67.5" y2="67.5" stroke="#333333" stroke-width="1.0"/>
<line x1="507.5" x2="544.2" y1="67.5" y2="67.5" stroke="#6e6e6e" stroke-width="1.0"/>
<line x1="507.5" x2="544.2" y1="174.6" y2="174.6" stroke="#6e6e6e" stroke-width="1.0"/>
<line x1="543.7" x2="543.7" y1="67.5" y2="174.6" stroke="#6e6e6e" stroke-width="1.0"/>
<line x1="507.5" x2="507.5" y1="67" y2="175.1" stroke="#333333" stroke-width="1.0"/>
<line x1="525.7" x2="525.7" y1="67.5" y2="174.6" stroke="#333333" stroke-width="1.0"/>
<line x1="507.5" x2="544.2" y1="180.4" y2="180.4" stroke="#6e6e6e" stroke-width="1.0"/>
<line x1="507.5" x2="544.2" y1="287.4" y2="287.4" stroke="#6e6e6e" stroke-width="1.0"/>
<line x1="543.7" x2="543.7" y1="180.4" y2="287.4" stroke="#6e6e6e" stroke-width="1.0"/>
<line x1="507.5" x2="507.5" y1="179.9" y2="287.9" stroke="#333333" stroke-width="1.0"/>
<line x1="525.7" x2="525.7" y1="180.4" y2="287.4" stroke="#333333" stroke-width="1.0"/>
<line x1="507.5" x2="544.2" y1="293.3" y2="293.3" stroke="#6e6e6e" stroke-width="1.0"/>
<line x1="507.5" x2="544.2" y1="400" y2="400" stroke="#6e6e6e" stroke-width="1.0"/>
<line x1="543.7" x2="543.7" y1="293.3" y2="400" stroke="#6e6e6e" stroke-width="1.0"/>
<line x1="507.5" x2="507.5" y1="292.8" y2="400.5" stroke="#333333" stroke-width="1.0"/>
<line x1="525.7" x2="525.7" y1="293.3" y2="400" stroke="#333333" stroke-width="1.0"/>
<line x1="507.5" x2="544.2" y1="405.8" y2="405.8" stroke="#6e6e6e" stroke-width="1.0"/>
<line x1="507.5" x2="544.2" y1="512.4" y2="512.4" stroke="#6e6e6e" stroke-width="1.0"/>
<line x1="543.7" x2="543.7" y1="405.8" y2="512.4" stroke="#6e6e6e" stroke-width="1.0"/>
<line x1="507.5" x2="507.5" y1="405.3" y2="512.9" stroke="#333333" stroke-width="1.0"/>
<line x1="525.7" x2="525.7" y1="405.8" y2="512.4" stroke="#333333" stroke-width="1.0"/>
<line x1="196.8" x2="210.5" y1="18.75" y2="18.75" stroke="#F8766D" stroke-width="1.8"/>
<circle cx="203.7" cy="18.75" r="2.15" fill="#F8766D"/>
<line x1="239.8" x2="253.5" y1="18.75" y2="18.75" stroke="#A3A500" stroke-width="1.8"/>
<circle cx="246.7" cy="18.75" r="2.15" fill="#A3A500"/>
<line x1="282.8" x2="296.5" y1="18.75" y2="18.75" stroke="#00BF7D" stroke-width="1.8"/>
<circle cx="289.7" cy="18.75" r="2.15" fill="#00BF7D"/>
<line x1="323.8" x2="337.5" y1="18.75" y2="18.75" stroke="#00B0F6" stroke-width="1.8"/>
<circle cx="330.7" cy="18.75" r="2.15" fill="#00B0F6"/>
<line x1="379.8" x2="393.5" y1="18.75" y2="18.75" stroke="#E76BF3" stroke-width="1.8"/>
<circle cx="386.7" cy="18.75" r="2.15" fill="#E76BF3"/>
<g opacity="0.999"><text x="43.6" y="86.8" font-size="8.7" fill="#4D4D4D" text-anchor="end">0.00</text><text x="43.6" y="106.9" font-size="8.7" fill="#4D4D4D" text-anchor="end"><tspan font-size="6.1" dy="-0.85" stroke="#4D4D4D" stroke-width="0.3">−</tspan><tspan dx="0.45" dy="0.85">0.01</tspan></text><text x="43.6" y="127" font-size="8.7" fill="#4D4D4D" text-anchor="end"><tspan font-size="6.1" dy="-0.85" stroke="#4D4D4D" stroke-width="0.3">−</tspan><tspan dx="0.45" dy="0.85">0.02</tspan></text><text x="43.6" y="147.1" font-size="8.7" fill="#4D4D4D" text-anchor="end"><tspan font-size="6.1" dy="-0.85" stroke="#4D4D4D" stroke-width="0.3">−</tspan><tspan dx="0.45" dy="0.85">0.03</tspan></text><text x="43.6" y="167.2" font-size="8.7" fill="#4D4D4D" text-anchor="end"><tspan font-size="6.1" dy="-0.85" stroke="#4D4D4D" stroke-width="0.3">−</tspan><tspan dx="0.45" dy="0.85">0.04</tspan></text><text x="43.6" y="192.6" font-size="8.7" fill="#4D4D4D" text-anchor="end">0.000</text><text x="43.6" y="215.1" font-size="8.7" fill="#4D4D4D" text-anchor="end"><tspan font-size="6.1" dy="-0.85" stroke="#4D4D4D" stroke-width="0.3">−</tspan><tspan dx="0.45" dy="0.85">0.025</tspan></text><text x="43.6" y="237.6" font-size="8.7" fill="#4D4D4D" text-anchor="end"><tspan font-size="6.1" dy="-0.85" stroke="#4D4D4D" stroke-width="0.3">−</tspan><tspan dx="0.45" dy="0.85">0.050</tspan></text><text x="43.6" y="260.1" font-size="8.7" fill="#4D4D4D" text-anchor="end"><tspan font-size="6.1" dy="-0.85" stroke="#4D4D4D" stroke-width="0.3">−</tspan><tspan dx="0.45" dy="0.85">0.075</tspan></text><text x="43.6" y="282.6" font-size="8.7" fill="#4D4D4D" text-anchor="end"><tspan font-size="6.1" dy="-0.85" stroke="#4D4D4D" stroke-width="0.3">−</tspan><tspan dx="0.45" dy="0.85">0.100</tspan></text><text x="43.6" y="306.4" font-size="8.7" fill="#4D4D4D" text-anchor="end">0.00</text><text x="43.6" y="329.23" font-size="8.7" fill="#4D4D4D" text-anchor="end"><tspan font-size="6.1" dy="-0.85" stroke="#4D4D4D" stroke-width="0.3">−</tspan><tspan dx="0.45" dy="0.85">0.01</tspan></text><text x="43.6" y="352.06" font-size="8.7" fill="#4D4D4D" text-anchor="end"><tspan font-size="6.1" dy="-0.85" stroke="#4D4D4D" stroke-width="0.3">−</tspan><tspan dx="0.45" dy="0.85">0.02</tspan></text><text x="43.6" y="374.89" font-size="8.7" fill="#4D4D4D" text-anchor="end"><tspan font-size="6.1" dy="-0.85" stroke="#4D4D4D" stroke-width="0.3">−</tspan><tspan dx="0.45" dy="0.85">0.03</tspan></text><text x="43.6" y="397.72" font-size="8.7" fill="#4D4D4D" text-anchor="end"><tspan font-size="6.1" dy="-0.85" stroke="#4D4D4D" stroke-width="0.3">−</tspan><tspan dx="0.45" dy="0.85">0.04</tspan></text><text x="43.6" y="420.5" font-size="8.7" fill="#4D4D4D" text-anchor="end">0.000</text><text x="43.6" y="443.65" font-size="8.7" fill="#4D4D4D" text-anchor="end"><tspan font-size="6.1" dy="-0.85" stroke="#4D4D4D" stroke-width="0.3">−</tspan><tspan dx="0.45" dy="0.85">0.025</tspan></text><text x="43.6" y="466.8" font-size="8.7" fill="#4D4D4D" text-anchor="end"><tspan font-size="6.1" dy="-0.85" stroke="#4D4D4D" stroke-width="0.3">−</tspan><tspan dx="0.45" dy="0.85">0.050</tspan></text><text x="43.6" y="489.95" font-size="8.7" fill="#4D4D4D" text-anchor="end"><tspan font-size="6.1" dy="-0.85" stroke="#4D4D4D" stroke-width="0.3">−</tspan><tspan dx="0.45" dy="0.85">0.075</tspan></text><text x="43.6" y="513.1" font-size="8.7" fill="#4D4D4D" text-anchor="end"><tspan font-size="6.1" dy="-0.85" stroke="#4D4D4D" stroke-width="0.3">−</tspan><tspan dx="0.45" dy="0.85">0.100</tspan></text><text x="291.6" y="83.5" font-size="8.7" fill="#4D4D4D" text-anchor="end">0.00</text><text x="291.6" y="115.4" font-size="8.7" fill="#4D4D4D" text-anchor="end"><tspan font-size="6.1" dy="-0.85" stroke="#4D4D4D" stroke-width="0.3">−</tspan><tspan dx="0.45" dy="0.85">0.01</tspan></text><text x="291.6" y="147.3" font-size="8.7" fill="#4D4D4D" text-anchor="end"><tspan font-size="6.1" dy="-0.85" stroke="#4D4D4D" stroke-width="0.3">−</tspan><tspan dx="0.45" dy="0.85">0.02</tspan></text><text x="291.6" y="191.5" font-size="8.7" fill="#4D4D4D" text-anchor="end">0.00</text><text x="291.6" y="216.53" font-size="8.7" fill="#4D4D4D" text-anchor="end"><tspan font-size="6.1" dy="-0.85" stroke="#4D4D4D" stroke-width="0.3">−</tspan><tspan dx="0.45" dy="0.85">0.02</tspan></text><text x="291.6" y="241.56" font-size="8.7" fill="#4D4D4D" text-anchor="end"><tspan font-size="6.1" dy="-0.85" stroke="#4D4D4D" stroke-width="0.3">−</tspan><tspan dx="0.45" dy="0.85">0.04</tspan></text><text x="291.6" y="266.59" font-size="8.7" fill="#4D4D4D" text-anchor="end"><tspan font-size="6.1" dy="-0.85" stroke="#4D4D4D" stroke-width="0.3">−</tspan><tspan dx="0.45" dy="0.85">0.06</tspan></text><text x="291.6" y="312.8" font-size="8.7" fill="#4D4D4D" text-anchor="end">0.000</text><text x="291.6" y="334.02" font-size="8.7" fill="#4D4D4D" text-anchor="end"><tspan font-size="6.1" dy="-0.85" stroke="#4D4D4D" stroke-width="0.3">−</tspan><tspan dx="0.45" dy="0.85">0.005</tspan></text><text x="291.6" y="355.24" font-size="8.7" fill="#4D4D4D" text-anchor="end"><tspan font-size="6.1" dy="-0.85" stroke="#4D4D4D" stroke-width="0.3">−</tspan><tspan dx="0.45" dy="0.85">0.010</tspan></text><text x="291.6" y="376.46" font-size="8.7" fill="#4D4D4D" text-anchor="end"><tspan font-size="6.1" dy="-0.85" stroke="#4D4D4D" stroke-width="0.3">−</tspan><tspan dx="0.45" dy="0.85">0.015</tspan></text><text x="291.6" y="397.68" font-size="8.7" fill="#4D4D4D" text-anchor="end"><tspan font-size="6.1" dy="-0.85" stroke="#4D4D4D" stroke-width="0.3">−</tspan><tspan dx="0.45" dy="0.85">0.020</tspan></text><text x="291.6" y="418.8" font-size="8.7" fill="#4D4D4D" text-anchor="end">0.00</text><text x="291.6" y="445.9" font-size="8.7" fill="#4D4D4D" text-anchor="end"><tspan font-size="6.1" dy="-0.85" stroke="#4D4D4D" stroke-width="0.3">−</tspan><tspan dx="0.45" dy="0.85">0.02</tspan></text><text x="291.6" y="473" font-size="8.7" fill="#4D4D4D" text-anchor="end"><tspan font-size="6.1" dy="-0.85" stroke="#4D4D4D" stroke-width="0.3">−</tspan><tspan dx="0.45" dy="0.85">0.04</tspan></text><text x="291.6" y="500.1" font-size="8.7" fill="#4D4D4D" text-anchor="end"><tspan font-size="6.1" dy="-0.85" stroke="#4D4D4D" stroke-width="0.3">−</tspan><tspan dx="0.45" dy="0.85">0.06</tspan></text><text x="79.4" y="524.5" font-size="8.7" fill="#4D4D4D" text-anchor="middle">20</text><text x="122.03" y="524.5" font-size="8.7" fill="#4D4D4D" text-anchor="middle">30</text><text x="164.66" y="524.5" font-size="8.7" fill="#4D4D4D" text-anchor="middle">40</text><text x="207.28" y="524.5" font-size="8.7" fill="#4D4D4D" text-anchor="middle">50</text><text x="249.91" y="524.5" font-size="8.7" fill="#4D4D4D" text-anchor="middle">60</text><text x="327.4" y="524.5" font-size="8.7" fill="#4D4D4D" text-anchor="middle">20</text><text x="370.03" y="524.5" font-size="8.7" fill="#4D4D4D" text-anchor="middle">30</text><text x="412.66" y="524.5" font-size="8.7" fill="#4D4D4D" text-anchor="middle">40</text><text x="455.28" y="524.5" font-size="8.7" fill="#4D4D4D" text-anchor="middle">50</text><text x="497.91" y="524.5" font-size="8.7" fill="#4D4D4D" text-anchor="middle">60</text><text x="154" y="60.4" font-size="8.7" fill="#1A1A1A" text-anchor="middle">ρ = 0.6</text><text x="402" y="60.4" font-size="8.7" fill="#1A1A1A" text-anchor="middle">ρ = 0.8</text><text transform="translate(513.8,121.05) rotate(90)" font-size="9.0" fill="#1A1A1A" text-anchor="middle" textLength="41.6" lengthAdjust="spacing">CVx = 0.33</text><text transform="translate(533.6,121.05) rotate(90)" font-size="9.0" fill="#1A1A1A" text-anchor="middle" textLength="41.6" lengthAdjust="spacing">CVy = 0.25</text><text transform="translate(513.8,233.9) rotate(90)" font-size="9.0" fill="#1A1A1A" text-anchor="middle" textLength="36.6" lengthAdjust="spacing">CVx = 0.5</text><text transform="translate(533.6,233.9) rotate(90)" font-size="9.0" fill="#1A1A1A" text-anchor="middle" textLength="41.6" lengthAdjust="spacing">CVy = 0.25</text><text transform="translate(513.8,346.65) rotate(90)" font-size="9.0" fill="#1A1A1A" text-anchor="middle" textLength="41.6" lengthAdjust="spacing">CVx = 0.33</text><text transform="translate(533.6,346.65) rotate(90)" font-size="9.0" fill="#1A1A1A" text-anchor="middle" textLength="41.6" lengthAdjust="spacing">CVy = 0.33</text><text transform="translate(513.8,459.1) rotate(90)" font-size="9.0" fill="#1A1A1A" text-anchor="middle" textLength="36.6" lengthAdjust="spacing">CVx = 0.5</text><text transform="translate(533.6,459.1) rotate(90)" font-size="9.0" fill="#1A1A1A" text-anchor="middle" textLength="41.6" lengthAdjust="spacing">CVy = 0.33</text><text x="278" y="536.2" font-size="11" fill="#000" text-anchor="middle">n</text><text transform="translate(11.9,290.4) rotate(-90)" font-size="10.4" fill="#000" text-anchor="middle">Bias</text><text x="146.5" y="22.5" font-size="10.2" fill="#000">Estimator</text><text transform="translate(221.95,22.8) scale(0.84,1)" font-size="19.0" fill="#000" text-anchor="middle">y</text><line x1="216.8" x2="226.8" y1="10.5" y2="10.5" stroke="#000" stroke-width="0.9"/><text x="226.6" y="26.5" font-size="13.3" fill="#000">c</text><text transform="translate(265.15,24.8) scale(0.84,1)" font-size="19.0" fill="#000" text-anchor="middle">y</text><line x1="260" x2="270" y1="12.55" y2="12.55" stroke="#000" stroke-width="0.9"/><text x="270.1" y="31.2" font-size="13.3" fill="#000">c</text><text x="270.4" y="14.7" font-size="11.2" fill="#000">*</text><text transform="translate(308.35,22.8) scale(0.84,1)" font-size="19.0" fill="#000" text-anchor="middle">y</text><line x1="303.2" x2="313.2" y1="10.5" y2="10.5" stroke="#000" stroke-width="0.9"/><text x="313.2" y="26.5" font-size="13.3" fill="#000">r</text><text transform="translate(349.35,22.4) scale(0.84,1)" font-size="19.0" fill="#000" text-anchor="middle">y</text><line x1="344.2" x2="354.2" y1="9.3" y2="9.3" stroke="#000" stroke-width="0.9"/><text x="354.5" y="25.7" font-size="13.3" fill="#000">reg</text><text transform="translate(405.35,22.8) scale(0.84,1)" font-size="19.0" fill="#000" text-anchor="middle">y</text><line x1="400.2" x2="410.2" y1="10.5" y2="10.5" stroke="#000" stroke-width="0.9"/></g>
</svg>
</body></html>
